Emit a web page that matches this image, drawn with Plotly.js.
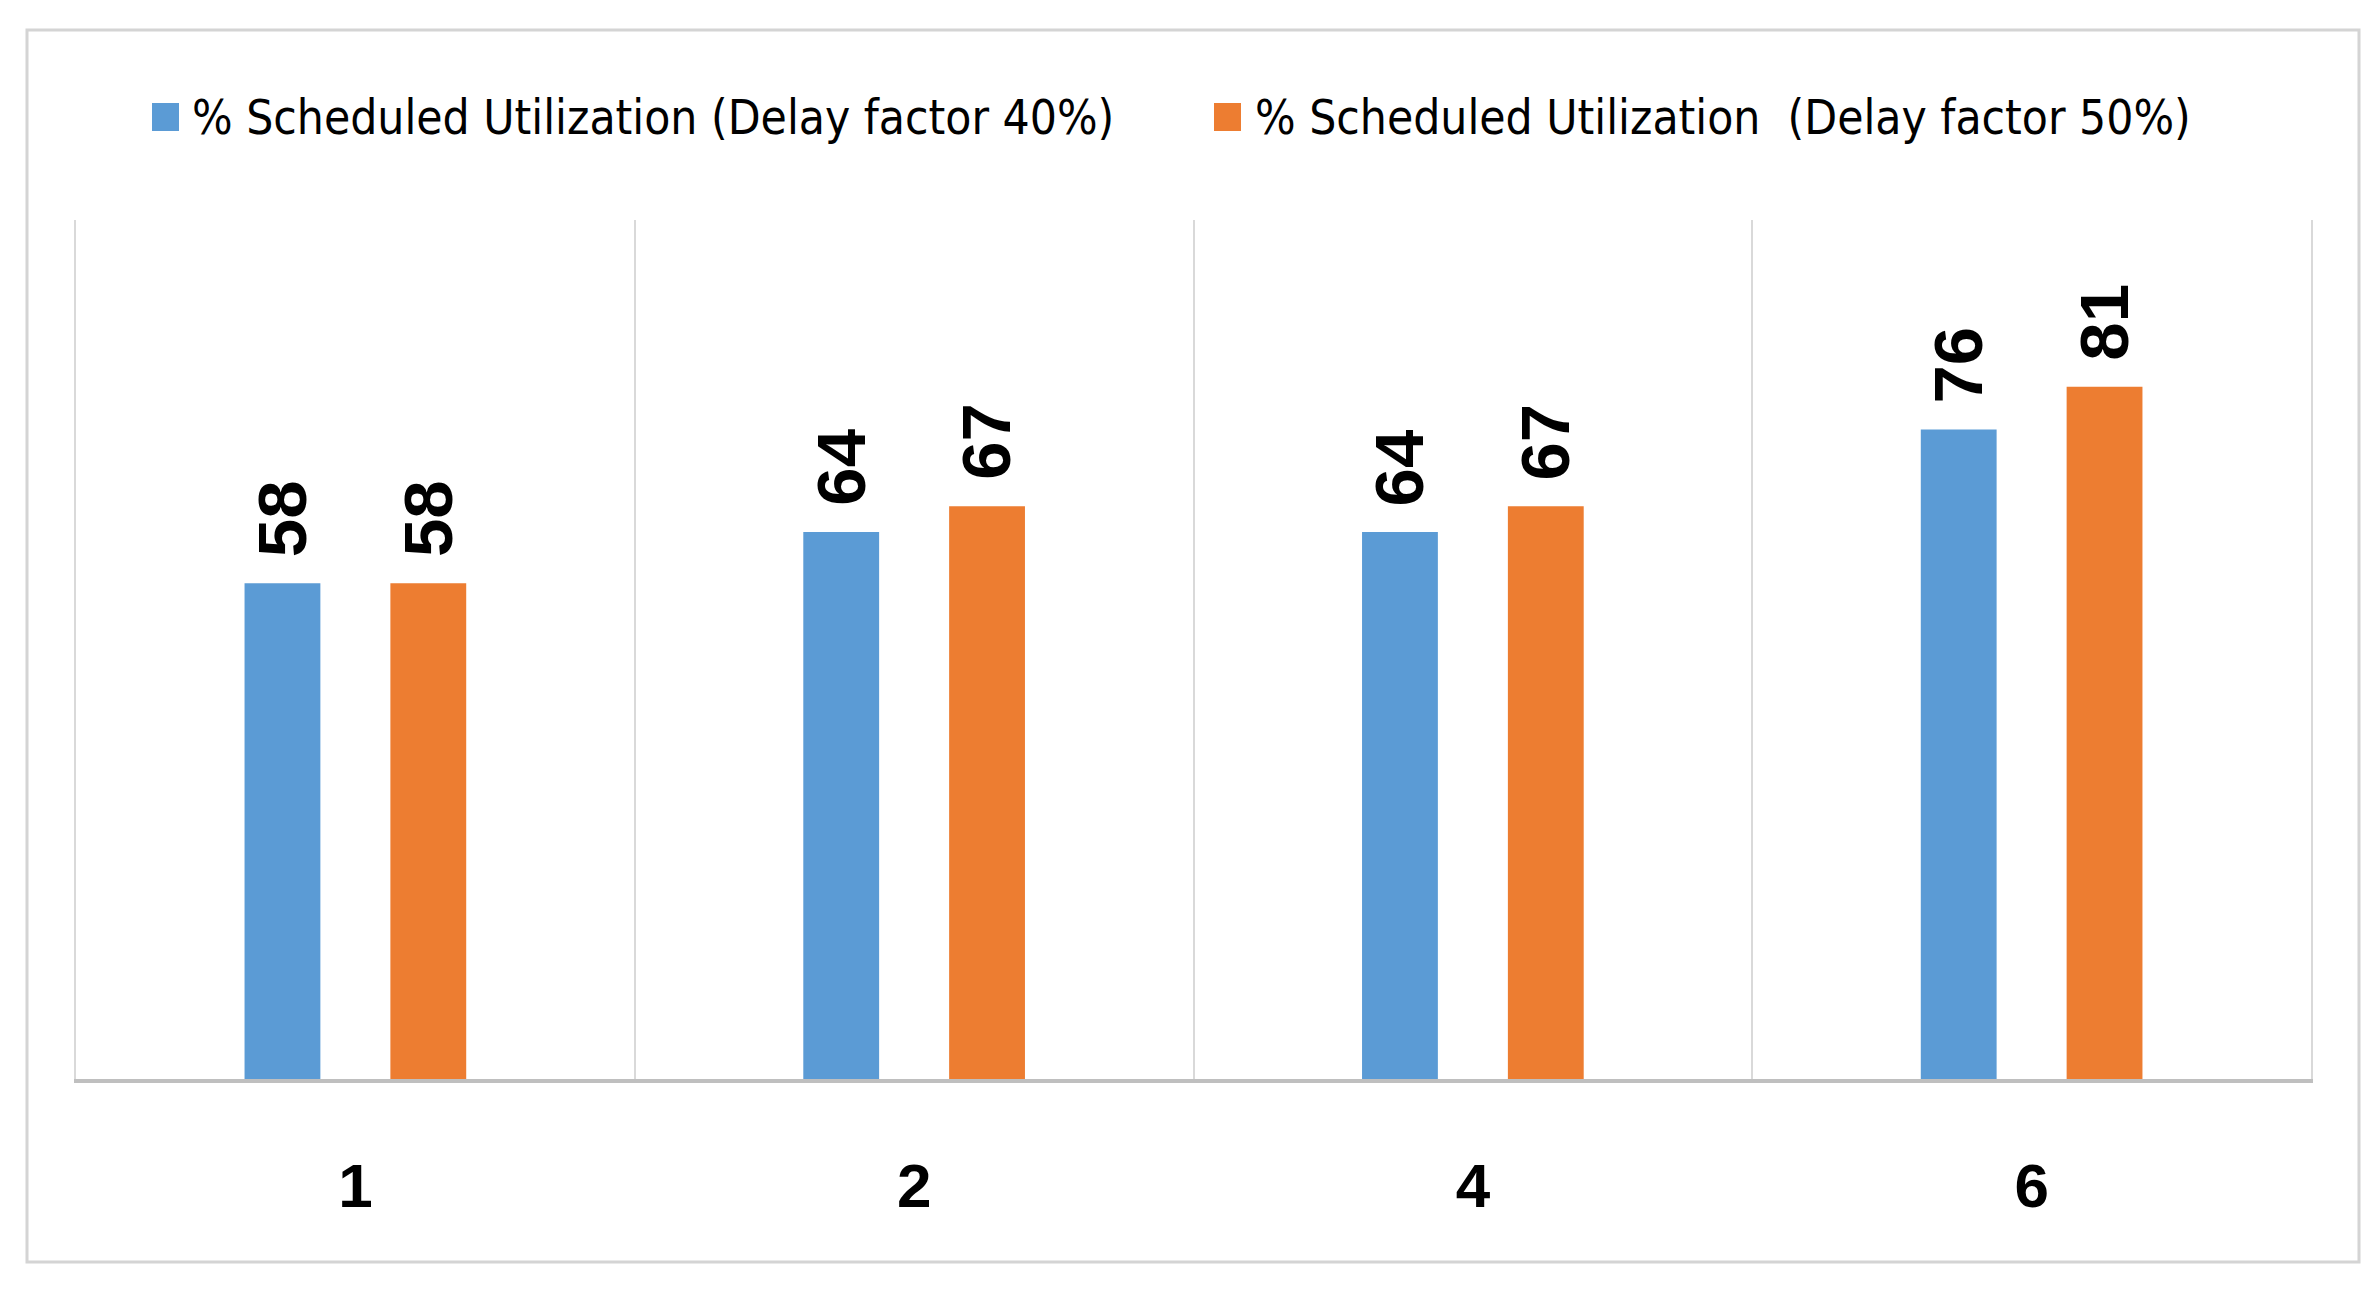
<!DOCTYPE html>
<html>
<head>
<meta charset="utf-8">
<script src="https://cdn.plot.ly/plotly-3.0.1.min.js"></script>
<style>html,body{margin:0;padding:0;background:#fff;}#chart{width:2379px;height:1297px;}</style>
</head>
<body>
<div id="chart"></div>
<script>
// ---- data ----
const categories = ['1', '2', '4', '6'];
const seriesNames = ['% Scheduled Utilization (Delay factor 40%)', '% Scheduled Utilization  (Delay factor 50%)'];
const delay40 = [58, 64, 64, 76];
const delay50 = [58, 67, 67, 81];
const seriesColors = ['#5B9BD5', '#ED7D31'];

// ---- layout constants ----
const W = 2379, H = 1297;
const M = {l: 76, r: 68, t: 220, b: 218};
const plotW = W - M.l - M.r, plotH = H - M.t - M.b;
const BARGAP = 0.478, BARGROUPGAP = 0.48;
const px = x => (x - M.l) / plotW;
const py = y => 1 - (y - M.t) / plotH;

const seriesValues = [delay40, delay50];
const traces = seriesValues.map((vals, j) => ({
  type: 'bar',
  name: seriesNames[j],
  x: categories,
  y: vals,
  marker: {color: seriesColors[j]},
  hoverinfo: 'x+y'
}));

// value labels (rotated) placed above each bar
const groupOffset = (1 - BARGAP) / 4;
const annotations = [];
seriesValues.forEach((vals, j) => {
  vals.forEach((v, i) => {
    annotations.push({
      x: i + (j === 0 ? -groupOffset : groupOffset),
      y: v, xref: 'x', yref: 'y',
      text: String(v), showarrow: false, textangle: -90,
      xanchor: 'center', yanchor: 'bottom', yshift: 24,
      font: {family: 'Liberation Sans, Arial, sans-serif', size: 69, color: '#000', weight: 'bold'}
    });
  });
});

// legend (drawn manually to match the large swatches)
const legendItems = [{sw: 152, tx: 190}, {sw: 1214, tx: 1253}];
const shapes = [];
legendItems.forEach((it, j) => {
  shapes.push({type: 'rect', xref: 'paper', yref: 'paper',
    x0: px(it.sw), x1: px(it.sw + 27), y0: py(103), y1: py(131),
    fillcolor: seriesColors[j], line: {width: 0}});
  annotations.push({xref: 'paper', yref: 'paper', x: px(it.tx), y: py(117),
    xanchor: 'left', yanchor: 'middle', showarrow: false, text: seriesNames[j],
    font: {family: 'DejaVu Sans Condensed, sans-serif', size: 47.5, color: '#000'}});
});
// outer chart border
shapes.push({type: 'rect', xref: 'paper', yref: 'paper',
  x0: px(27), x1: px(2359), y0: py(30), y1: py(1262),
  line: {color: '#d4d4d4', width: 3}, fillcolor: 'rgba(0,0,0,0)', layer: 'below'});

const layout = {
  width: W, height: H,
  margin: M,
  paper_bgcolor: '#fff', plot_bgcolor: '#fff',
  barmode: 'group', bargap: BARGAP, bargroupgap: BARGROUPGAP,
  showlegend: false,
  xaxis: {
    type: 'category', tickson: 'boundaries', showgrid: true, gridcolor: '#d9d9d9', gridwidth: 2,
    showline: true, linecolor: '#bfbfbf', linewidth: 4,
    ticks: '', ticklabelstandoff: 50,
    tickfont: {family: 'Liberation Sans, Arial, sans-serif', size: 62, color: '#000', weight: 'bold'},
    range: [-0.5, 3.5], fixedrange: true
  },
  yaxis: {
    range: [0, 100.5], showgrid: false, zeroline: false, showticklabels: false,
    showline: true, mirror: true, linecolor: '#d9d9d9', linewidth: 2, ticks: '', fixedrange: true
  },
  annotations: annotations,
  shapes: shapes
};

Plotly.newPlot('chart', traces, layout, {displayModeBar: false, staticPlot: true});
</script>
</body>
</html>
